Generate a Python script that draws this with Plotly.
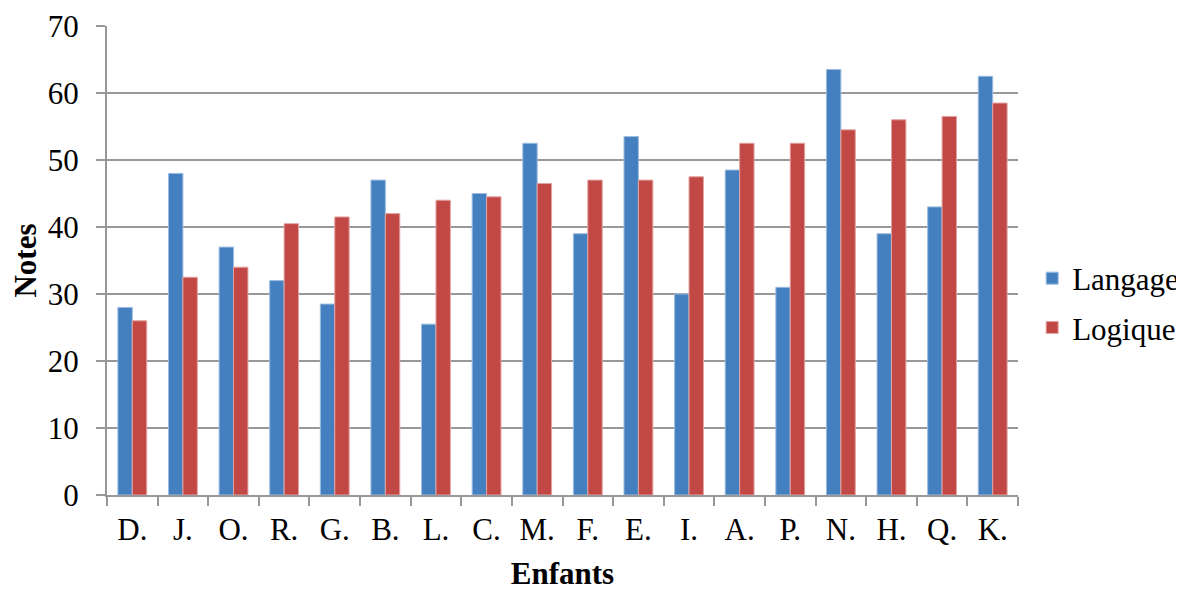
import plotly.graph_objects as go

categories = ["D.", "J.", "O.", "R.", "G.", "B.", "L.", "C.", "M.", "F.", "E.", "I.", "A.", "P.", "N.", "H.", "Q.", "K."]
langage = [28, 48, 37, 32, 28.5, 47, 25.5, 45, 52.5, 39, 53.5, 30, 48.5, 31, 63.5, 39, 43, 62.5]
logique = [26, 32.5, 34, 40.5, 41.5, 42, 44, 44.5, 46.5, 47, 47, 47.5, 52.5, 52.5, 54.5, 56, 56.5, 58.5]
y_ticks = [0, 10, 20, 30, 40, 50, 60, 70]

FONT = "Liberation Serif"
GRID = "#989898"

fig = go.Figure()
fig.add_trace(go.Bar(x=categories, y=langage, name="Langage", legendgroup="a",
                     marker=dict(color="#4480BF", line=dict(color="#9DBCE0", width=1))))
fig.add_trace(go.Bar(x=categories, y=logique, name="Logique", legendgroup="b",
                     marker=dict(color="#C24845", line=dict(color="#E3A3A2", width=1))))

fig.update_layout(
    width=1184, height=590,
    margin=dict(l=99, r=174, t=18, b=103, autoexpand=False),
    paper_bgcolor="white", plot_bgcolor="white",
    barmode="group", bargap=0.43, bargroupgap=0,
    font=dict(family=FONT, size=31, color="black"),
    legend=dict(xref="container", yref="container", x=0.865, y=0.5,
                xanchor="left", yanchor="middle",
                traceorder="grouped", tracegroupgap=6,
                font=dict(family=FONT, size=31, color="black"), itemwidth=30),
    showlegend=True,
)
fig.update_xaxes(
    automargin=False,
    showline=True, linecolor=GRID, linewidth=2,
    ticks="outside", tickson="boundaries", ticklen=9, tickcolor=GRID, tickwidth=2,
    ticklabelstandoff=6,
    tickfont=dict(family=FONT, size=31, color="black"),
    title=dict(text="<b>Enfants</b>", font=dict(family=FONT, size=31, color="black"), standoff=16),
    showgrid=False,
)
fig.update_yaxes(
    automargin=False,
    range=[0, 70], tickvals=y_ticks, showline=True, linecolor=GRID, linewidth=2,
    ticks="outside", ticklen=9, tickcolor=GRID, tickwidth=2,
    ticklabelstandoff=11,
    showgrid=True, gridcolor=GRID, gridwidth=2, zeroline=False,
    tickfont=dict(family=FONT, size=31, color="black"),
    title=dict(text="<b>Notes</b>", font=dict(family=FONT, size=31, color="black"), standoff=6),
)

fig.write_html("out.html")
